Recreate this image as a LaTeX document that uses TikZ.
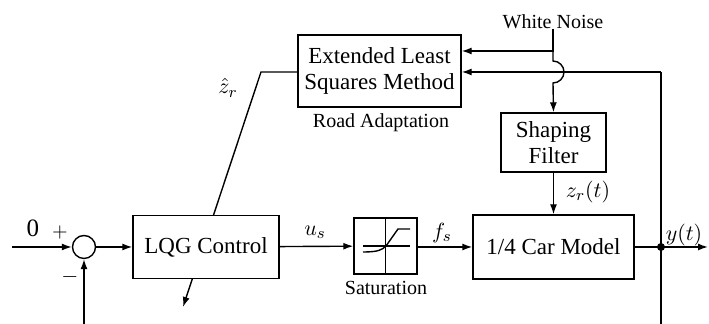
\documentclass[tikz,border=0pt]{standalone}
\usepackage{fontspec}
\setmainfont{Liberation Serif}
\usepackage{amsmath}
\usepackage{tikz}
\usetikzlibrary{arrows, arrows.meta, positioning, shapes}
\tikzstyle{block} = [rectangle, draw=black, line width=0.7pt, fill=white, text centered, inner sep=1pt, font=\fontsize{11.5}{13}\selectfont]
\tikzstyle{sum} = [circle, draw=black, line width=0.7pt, fill=white, minimum size=11.5pt, inner sep=0pt]
\tikzstyle{line} = [draw, line width=0.7pt, -{Latex[length=5pt,width=3.5pt]}]
\tikzstyle{wire} = [draw, line width=0.7pt]
\tikzstyle{lbl} = [font=\fontsize{10}{12}\selectfont, inner sep=0pt]

\begin{document}
\begin{tikzpicture}[x=0.5pt, y=-0.5pt]
        \useasboundingbox (0,0) rectangle (709,324);

		\node(els) [block, minimum width=81.5pt, minimum height=36pt, align=center] at (379.5,71) {Extended Least\\Squares Method};
		\node [lbl] at (381,123) {Road Adaptation};

		% estimate line runs behind the controller
		\coordinate (zbend) at (261,72);
		\coordinate (zend) at (183,307);
		\draw [line] (els.west |- zbend) -- (zbend) -- (zend);
		\node [font=\fontsize{11}{13}\selectfont] at (228,88) {$\hat{z}_r$};

		\node(sum) [sum] at (84,247) {};
		\node(lqg) [block, minimum width=73pt, minimum height=31.5pt] at (206,247) {LQG Control};
		\node(sat) [block, minimum width=31.5pt, minimum height=28pt] at (385.5,246) {};
		\node [lbl] at (386,288) {Saturation};
		\node(car) [block, minimum width=80.5pt, minimum height=32pt] at (553.5,247) {1/4 Car Model};
		\node(shf) [block, minimum width=52.5pt, minimum height=29.5pt, align=center] at (553.5,142.5) {Shaping\\Filter};
		\node(wn) [lbl, anchor=south] at (553,29) {White Noise};

		% saturation glyph
		\draw [line width=0.7pt] (sat.north) -- (sat.south);
		\draw [line width=0.7pt] (363,246) -- (410,246);
		\draw [line width=0.7pt] (363,252) .. controls (378,252) and (382,250) .. (386,246) -- (398,229) -- (410,229);

		\coordinate (in) at (12,247);
		\coordinate (fbl) at (84,324);
		\coordinate (yo) at (661,247);
		\coordinate (fbr) at (661,324);
		\coordinate (fbtop) at (661,72);
		\coordinate (out) at (708,247);
		\coordinate (wnj) at (553,51);
		\coordinate (jtop) at (553,61);

		 % Draw edges
		 \path [line] (in) -- (sum);
		 \path [line] (fbl) -- (sum);
		 \path [line] (sum) -- (lqg);
		 \path [line] (lqg) -- (sat);
		 \path [line] (sat.east |- car) -- (car);
		 \path [line] (car) -- (out);
		 \path [wire] (fbr) -- (fbtop);
		 \path [line] (fbtop) -- (els.east |- fbtop);
		 \path [line] (wn.south) -- (wnj) -- (els.east |- wnj);
		 \draw [line] (wnj) -- (jtop) arc[start angle=90, end angle=-90, radius=5.5pt] -- (shf.north);
		 \path [line] (shf) -- (car);
		 \fill (yo) circle (2pt);

		 % Labels
		 \node [font=\fontsize{12.5}{14}\selectfont] at (33,228) {0};
		 \node [font=\fontsize{10}{12}\selectfont] at (60,233) {$+$};
		 \node [font=\fontsize{11}{13}\selectfont] at (70,277) {$-$};
		 \node [font=\fontsize{11}{13}\selectfont] at (315,232) {$u_s$};
		 \node [font=\fontsize{11}{13}\selectfont] at (442,233) {$f_s$};
		 \node [font=\fontsize{11}{13}\selectfont] at (588,192) {$z_r(t)$};
		 \node [font=\fontsize{11}{13}\selectfont] at (684,235) {$y(t)$};

         \end{tikzpicture}
\end{document}
